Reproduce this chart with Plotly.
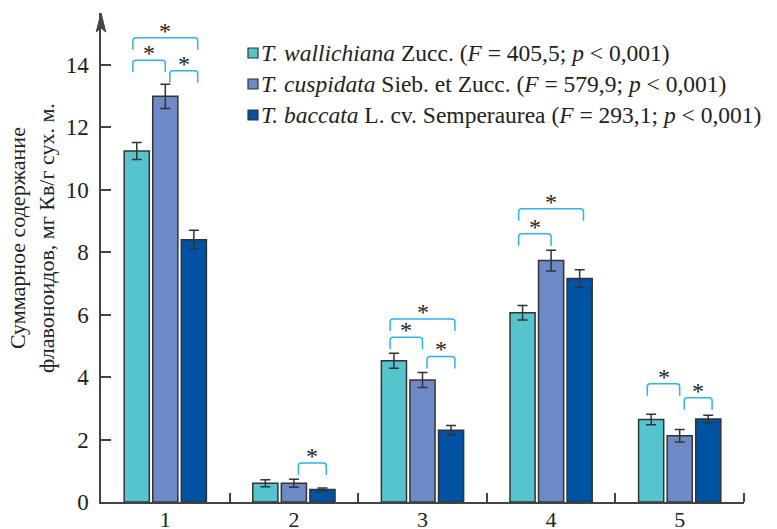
import plotly.graph_objects as go

# ---------------- data ----------------
categories = [1, 2, 3, 4, 5]
tick_labels = ["1", "2", "3", "4", "5"]

series_names = [
    "<i>T. wallichiana</i> Zucc. (<i>F</i> = 405,5; <i>p</i> &lt; 0,001)",
    "<i>T. cuspidata</i> Sieb. et Zucc. (<i>F</i> = 579,9; <i>p</i> &lt; 0,001)",
    "<i>T. baccata</i> L. cv. Semperaurea (<i>F</i> = 293,1; <i>p</i> &lt; 0,001)",
]
wallichiana = [11.24, 0.60, 4.52, 6.06, 2.64]
wallichiana_err = [0.27, 0.11, 0.24, 0.23, 0.17]
cuspidata = [12.99, 0.60, 3.91, 7.73, 2.12]
cuspidata_err = [0.39, 0.13, 0.24, 0.33, 0.20]
baccata = [8.40, 0.40, 2.30, 7.16, 2.66]
baccata_err = [0.30, 0.05, 0.15, 0.28, 0.12]

# significance brackets: (category, first bar, last bar, bracket level)
brackets = [
    (1, 0, 2, 14.87), (1, 0, 1, 14.15), (1, 1, 2, 13.81),
    (2, 1, 2, 1.25),
    (3, 0, 2, 5.86), (3, 0, 1, 5.28), (3, 1, 2, 4.66),
    (4, 0, 2, 9.39), (4, 0, 1, 8.59),
    (5, 0, 1, 3.79), (5, 1, 2, 3.34),
]

y_ticks = [0, 2, 4, 6, 8, 10, 12, 14]

# ---------------- styles ----------------
colors = ["#55c4ce", "#6e8ac6", "#0052a2"]
outline = "#333333"
bracket_color = "#2db4ea"
axis_color = "#444444"
text_color = "#222222"
FONT = "Liberation Serif, Times New Roman, serif"

# page body has an 8px default margin, so the figure starts at (8, 8) on screen
OFF = 8
W, H = 777 - OFF, 529 - OFF
# target plot area on screen: x 101..744, y 13..502
ML, MT = 101 - OFF, 13 - OFF
MR = W - (744 - OFF)
MB = H - (502 - OFF)
X_RANGE = [0.5, 5.5]
Y_RANGE = [0, 15.66]
BARGAP = 0.334
plot_w = W - ML - MR
plot_h = H - MT - MB
px_x = plot_w / (X_RANGE[1] - X_RANGE[0])
px_y = plot_h / (Y_RANGE[1] - Y_RANGE[0])


def paper_x(screen_x):
    return (screen_x - 101) / plot_w


def paper_y(screen_y):
    return (502 - screen_y) / plot_h


values = [wallichiana, cuspidata, baccata]
errors = [wallichiana_err, cuspidata_err, baccata_err]

fig = go.Figure()
for name, vals, errs, col in zip(series_names, values, errors, colors):
    fig.add_trace(go.Bar(
        x=categories, y=vals, name=name,
        marker=dict(color=col, line=dict(color=outline, width=1.5)),
        error_y=dict(type="data", array=errs, color=outline, thickness=1.5, width=5),
        showlegend=False,
    ))

# ---------------- significance brackets ----------------
slot = (1 - BARGAP) / 3
leg = 12 / px_y
rx = 3 / px_x
ry = 3 / px_y
shapes = []
annotations = []
for cat, i, j, level in brackets:
    xi = cat + (i - 1) * slot
    xj = cat + (j - 1) * slot
    xl = xi - 0.03
    xr = xj + 0.03
    if j == 1:
        xr = xj + 0.0
    if i == 1:
        xl = xi + 0.035
    path = (f"M {xl},{level - leg} L {xl},{level - ry} Q {xl},{level} {xl + rx},{level} "
            f"L {xr - rx},{level} Q {xr},{level} {xr},{level - ry} L {xr},{level - leg}")
    shapes.append(dict(type="path", xref="x", yref="y", path=path,
                       line=dict(color=bracket_color, width=1.5)))
    annotations.append(dict(x=(xl + xr) / 2, y=level, xref="x", yref="y", text="*",
                            showarrow=False, yanchor="middle", yshift=7,
                            font=dict(family=FONT, size=24, color=text_color)))

# y-axis arrow head
shapes.append(dict(type="path", xref="paper", yref="paper",
                   xsizemode="pixel", ysizemode="pixel", xanchor=0, yanchor=1,
                   path="M 0,0 L -4.8,-19 L 0,-15 L 4.8,-19 Z",
                   fillcolor=axis_color, line=dict(color=axis_color, width=1)))

# ---------------- custom legend ----------------
legend_rows_px = [53, 84, 115]
for name, col, ypx in zip(series_names, colors, legend_rows_px):
    yp = paper_y(ypx)
    shapes.append(dict(type="rect", xref="paper", yref="paper",
                       xsizemode="pixel", ysizemode="pixel",
                       xanchor=paper_x(253), yanchor=yp,
                       x0=-5, x1=5, y0=-5, y1=5,
                       fillcolor=col, line=dict(color=outline, width=1.2)))
    annotations.append(dict(x=paper_x(259), y=yp, xref="paper", yref="paper",
                            text=name, showarrow=False, xanchor="left", yanchor="middle",
                            font=dict(family=FONT, size=23.5, color=text_color)))

# y-axis title
annotations.append(dict(
    x=paper_x(32), y=paper_y(238), xref="paper", yref="paper",
    text="Суммарное содержание<br>флавоноидов, мг Кв/г сух. м.",
    textangle=-90, showarrow=False, xanchor="center", yanchor="middle",
    font=dict(family=FONT, size=22, color=text_color)))

fig.update_layout(
    width=W, height=H,
    margin=dict(l=ML, r=MR, t=MT, b=MB, pad=0, autoexpand=False),
    paper_bgcolor="white", plot_bgcolor="white",
    barmode="group", bargap=BARGAP, bargroupgap=0.12,
    font=dict(family=FONT, size=23, color=text_color),
    shapes=shapes, annotations=annotations,
    showlegend=False,
)
fig.update_xaxes(
    range=X_RANGE, tickvals=categories, ticktext=tick_labels,
    ticks="", showgrid=False, zeroline=False, automargin=False,
    showline=True, linecolor=axis_color, linewidth=1.5,
    minor=dict(tickvals=[c + 0.5 for c in categories], ticks="inside",
               ticklen=9, tickwidth=1.5, tickcolor=axis_color, showgrid=False),
    ticklabelstandoff=-3,
    tickfont=dict(family=FONT, size=22, color=text_color),
)
fig.update_yaxes(
    range=Y_RANGE, tickvals=y_ticks, ticktext=[str(v) for v in y_ticks],
    ticks="inside", ticklen=10, tickwidth=1.5, tickcolor=axis_color,
    ticklabelstandoff=6, automargin=False,
    showgrid=False, zeroline=False,
    showline=True, linecolor=axis_color, linewidth=1.5,
    tickfont=dict(family=FONT, size=23, color=text_color),
)

fig.write_html("out.html")
